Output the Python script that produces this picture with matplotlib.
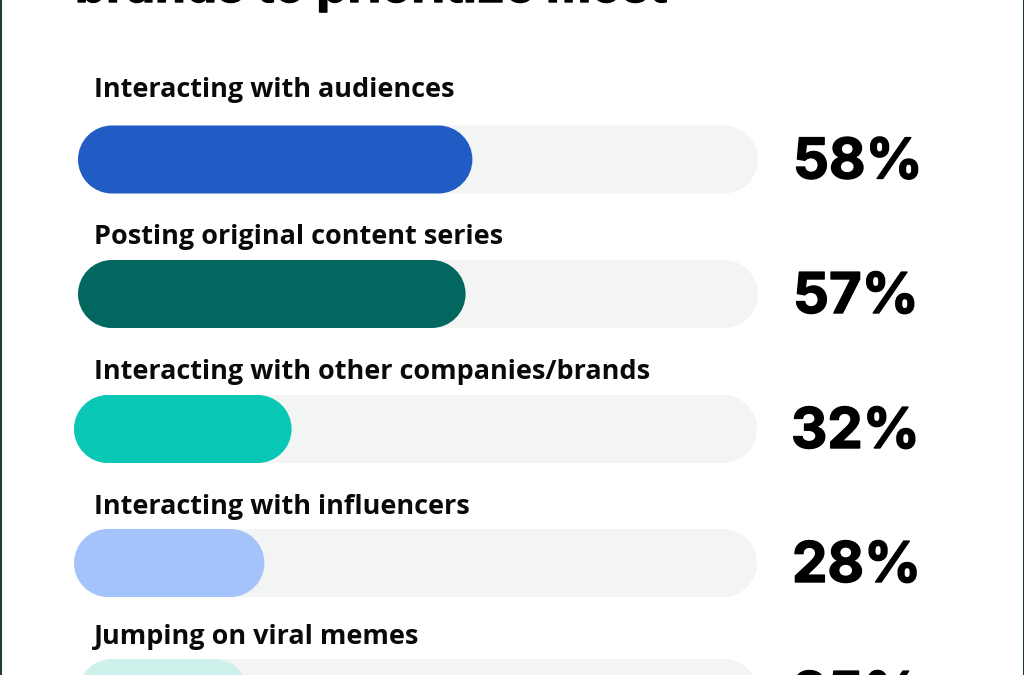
import matplotlib
matplotlib.use("Agg")
import matplotlib.pyplot as plt
import matplotlib.patheffects as pe
from matplotlib.patches import PathPatch
from matplotlib.path import Path

categories = ["Interacting with audiences", "Posting original content series",
              "Interacting with other companies/brands", "Interacting with influencers",
              "Jumping on viral memes"]
values = [58, 57, 32, 28, 25]
value_labels = ["58%", "57%", "32%", "28%", "25%"]
colors = ["#215CC4", "#02675F", "#08C7B4", "#A4C3FA", "#CDF1EA"]
title = "brands to prioritize most"

W, H = 1024, 675
PX = 6.8
R = 34
K = 0.5523
centers = [159.5, 294, 429, 563, 693]
starts = [78, 78, 74, 74, 78]
track_right = [758, 758, 757, 757, 758]
label_base = [97, 244, 379, 514, 644]
pct_x = [794, 794, 792, 793, 793]
heavy = [pe.withStroke(linewidth=1.0, foreground="black")]

fig = plt.figure(figsize=(W/100, H/100), dpi=100, facecolor="white")
ax = fig.add_axes([0, 0, 1, 1])
ax.set_xlim(0, W/PX)
ax.set_ylim(H, 0)
ax.axis("off")

def pill(x0, w, yc, color, z):
    r = R/PX
    x1 = x0 + w
    t, b = yc-R, yc+R
    verts = [(x0+r, t), (x1-r, t),
             (x1-r+K*r, t), (x1, yc-K*R), (x1, yc),
             (x1, yc+K*R), (x1-r+K*r, b), (x1-r, b),
             (x0+r, b),
             (x0+r-K*r, b), (x0, yc+K*R), (x0, yc),
             (x0, yc-K*R), (x0+r-K*r, t), (x0+r, t),
             (x0+r, t)]
    codes = [Path.MOVETO, Path.LINETO] + [Path.CURVE4]*6 + [Path.LINETO] + [Path.CURVE4]*6 + [Path.CLOSEPOLY]
    ax.add_patch(PathPatch(Path(verts, codes), fc=color, ec="none", zorder=z))

for i, v in enumerate(values):
    x0 = starts[i]/PX
    pill(x0, (track_right[i]-starts[i])/PX, centers[i], "#F3F5F4", 1)
    pill(x0, v, centers[i], colors[i], 2)
    ax.text(94/PX, label_base[i], categories[i], fontsize=19.45, family="Open Sans", weight="bold",
            color="#0a0a0a", va="baseline", ha="left")
    ax.text((pct_x[i]-1)/PX, centers[i]+19, value_labels[i], fontsize=40.5, family="Inter", weight="bold",
            color="black", va="baseline", ha="left", path_effects=heavy)

ax.text(75/PX, 2, title, fontsize=35.6, family="Inter", weight="bold", color="black",
        va="baseline", ha="left", path_effects=heavy)

ax.plot([0.5/PX, 0.5/PX], [0, H], color="#1F3D3A", lw=1.5, zorder=5)
ax.plot([(W-0.5)/PX, (W-0.5)/PX], [0, H], color="#1F3D3A", lw=1.5, zorder=5)

fig.savefig("out.png", dpi=100)
